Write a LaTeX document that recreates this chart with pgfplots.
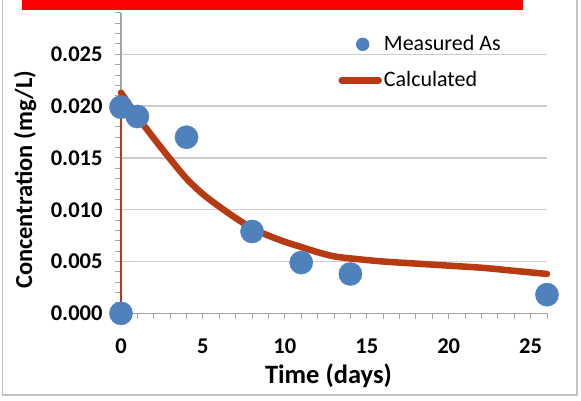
\documentclass[border=0pt]{standalone}
\usepackage{pgfplots}
\pgfplotsset{compat=1.18}
\usepackage{fontspec}
\setmainfont{Carlito}
\definecolor{measblue}{RGB}{79,129,189}
\definecolor{calcred}{RGB}{184,58,18}
\definecolor{gridgray}{RGB}{205,205,205}
\definecolor{axgray}{RGB}{165,165,165}
\definecolor{framegray}{RGB}{195,195,195}
\begin{document}
\begin{tikzpicture}
\useasboundingbox (0pt,0pt) rectangle (581pt,-400pt);
\draw[framegray, line width=1.5pt] (2.5pt,0pt) -- (2.5pt,-395pt) -- (577pt,-395pt) -- (577pt,0pt);
\begin{axis}[
  at={(121pt,-313.3pt)}, anchor=south west,
  width=426pt, height=300.4pt, scale only axis,
  xmin=0, xmax=26, ymin=0, ymax=0.029,
  axis x line*=bottom, axis y line*=left,
  axis line style={draw=axgray, line width=1.2pt, -},
  xtick={0,5,10,15,20,25},
  minor xtick={0,1,...,26},
  ytick={0,0.005,0.01,0.015,0.02,0.025},
  minor ytick={0.001,0.002,0.003,0.004,0.006,0.007,0.008,0.009,0.011,0.012,0.013,0.014,0.016,0.017,0.018,0.019,0.021,0.022,0.023,0.024,0.026,0.027,0.028,0.029},
  tick align=outside, major tick length=6pt, minor tick length=6pt,
  every tick/.style={draw=axgray, line width=1pt},
  ymajorgrids, major grid style={draw=gridgray, line width=1.3pt},
  scaled y ticks=false,
  yticklabel style={/pgf/number format/.cd, fixed, fixed zerofill, precision=3, /tikz/.cd, xshift=-9pt},
  xticklabel style={yshift=-16pt},
  /pgf/number format/assume math mode=true,
  tick label style={font=\bfseries\fontsize{22.5}{25}\selectfont, text=black},
  xlabel={Time (days)},
  xlabel style={at={(axis description cs:0.487,-0.234)}, anchor=base, font=\bfseries\fontsize{26.5}{30}\selectfont},
  ylabel={Concentration (mg/L)},
  ylabel style={at={(axis description cs:-0.225,0.444)}, anchor=center, font=\bfseries\fontsize{24.5}{28}\selectfont},
  clip=false,
  legend style={at={(axis description cs:0.510,0.936)}, anchor=north west, draw=none, fill=none,
    font=\fontsize{22}{26}\selectfont, row sep=12pt, column sep=0pt, inner sep=0pt,
    nodes={inner sep=2pt, text height=16pt, text depth=4pt}},
  legend cell align=left,
]
\addplot[calcred, line width=2.7pt, forget plot] coordinates {(0,0) (0,0.0213)};
\addplot[calcred, line width=6.5pt, smooth, line cap=round, forget plot]
  coordinates {(0,0.0213) (1,0.0190) (2,0.0169) (3,0.0149) (4,0.0130) (5,0.0115) (6,0.0103) (7,0.0092) (8,0.0082) (9,0.0075) (10,0.0069) (11,0.0064) (12,0.0059) (13,0.0055) (14,0.0053) (16,0.0050) (18,0.0048) (20,0.0046) (22,0.0044) (24,0.0041) (26,0.0038)};
\addplot[measblue, only marks, mark=*, mark size=11.6pt, mark options={draw=measblue, fill=measblue}, forget plot]
  coordinates {(0,0.0199) (0,0.0) (1,0.0190) (4,0.0170) (8,0.0079) (11,0.0049) (14,0.0038) (26,0.0018)};
\addlegendimage{legend image code/.code={\path[draw=none, fill=none] (0pt,-1pt) rectangle (43pt,1pt); \fill[measblue, draw=none] (24pt,0pt) circle (6.7pt);}}
\addlegendentry{Measured As}
\addlegendimage{legend image code/.code={\draw[calcred, line width=6.5pt, line cap=round] (3pt,0pt) -- (40pt,0pt);}}
\addlegendentry{Calculated}
\end{axis}
\fill[red] (22pt,0pt) rectangle (523pt,-9.5pt);
\end{tikzpicture}
\end{document}
